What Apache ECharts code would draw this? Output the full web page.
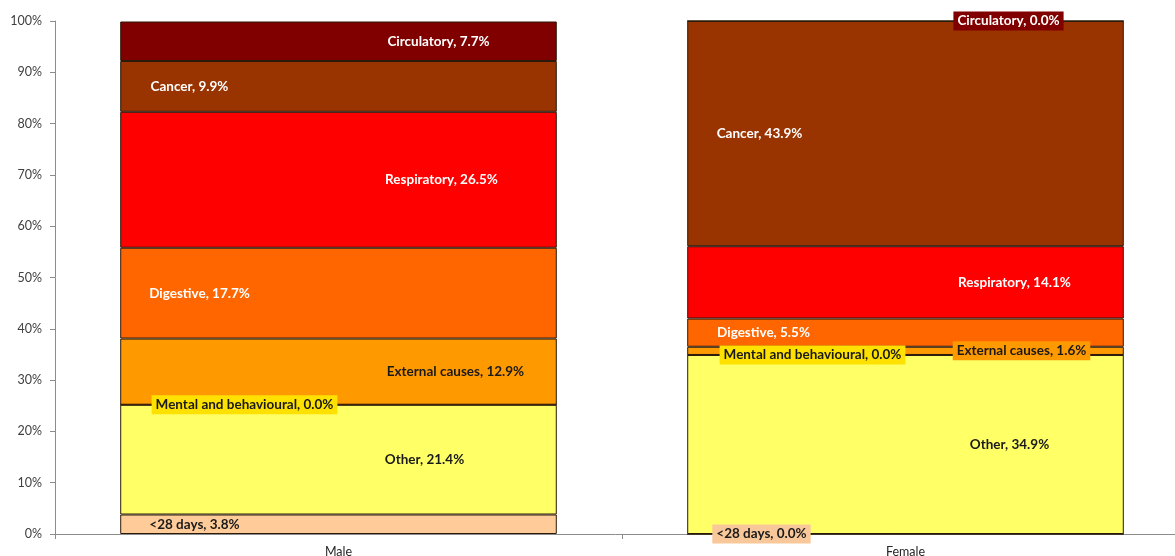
<!DOCTYPE html>
<html>
<head>
<meta charset="utf-8">
<script src="https://cdn.jsdelivr.net/npm/echarts@6/dist/echarts.min.js"></script>
<style>
  html, body { margin: 0; padding: 0; background: #fff; }
  #container { width: 1175px; height: 556px; }
</style>
</head>
<body>
<div id="container"></div>
<script>
// categories and series, bottom of the stack first
let categories = ['Male', 'Female'];
let seriesNames = ['<28 days', 'Other', 'Mental and behavioural', 'External causes',
                   'Digestive', 'Respiratory', 'Cancer', 'Circulatory'];
let maleValues   = [3.8, 21.4, 0.0, 12.9, 17.7, 26.5, 9.9, 7.7];
let femaleValues = [0.0, 34.9, 0.0, 1.6, 5.5, 14.1, 43.9, 0.0];
let yTicks = [0, 10, 20, 30, 40, 50, 60, 70, 80, 90, 100];

// look of each series
let colors = ['#ffcc99', '#ffff66', '#ffe100', '#ff9900', '#ff6600', '#ff0000', '#993300', '#800000'];
let textColors = ['#1a1a1a', '#1a1a1a', '#1a1a1a', '#1a1a1a', '#ffffff', '#ffffff', '#ffffff', '#ffffff'];
// horizontal label shift from bar centre, [male, female]
let labelShift = [[-144, -144], [86, 104], [-94, -93], [117, 116],
                  [-139, -142], [103, 109], [-149, -146], [100, 103]];
// labels that sit on a thin or empty segment get a box behind them
let boxed = [[false, true], [false, false], [true, true], [false, true],
             [false, false], [false, false], [false, false], [false, true]];
let boxColors = ['#f9c89a', '#ffff66', '#ffe100', '#ff9900', '#ff6600', '#ff0000', '#993300', '#800000'];

let series = seriesNames.map((name, i) => {
    let vals = [maleValues[i], femaleValues[i]];
    return {
        name: name,
        type: 'bar',
        stack: 'total',
        barWidth: '77%',
        itemStyle: { color: colors[i], borderColor: '#2b1a0a', borderWidth: 1 },
        data: vals.map((v, j) => {
            let lab = { offset: [labelShift[i][j], 0] };
            if (boxed[i][j]) {
                lab.backgroundColor = boxColors[i];
                lab.padding = [3, 4, 2, 4];
            }
            return { value: v, label: lab };
        }),
        label: {
            show: true,
            position: 'inside',
            color: textColors[i],
            fontFamily: 'Lato',
            fontWeight: 'bold',
            fontSize: 13.5,
            formatter: (p) => p.seriesName + ', ' + p.value.toFixed(1) + '%'
        }
    };
});

let chart = echarts.init(document.getElementById('container'));
chart.setOption({
    animation: false,
    grid: { left: 55, right: -14, top: 21, bottom: 22, containLabel: false, outerBoundsMode: 'none' },
    xAxis: {
        type: 'category',
        data: categories,
        axisLine: { lineStyle: { color: '#8c8c8c' } },
        axisTick: { show: true, length: 5, lineStyle: { color: '#8c8c8c' } },
        axisLabel: { color: '#262626', fontFamily: 'Lato', fontSize: 12.5, margin: 11 }
    },
    yAxis: {
        type: 'value',
        min: yTicks[0],
        max: yTicks[yTicks.length - 1],
        interval: yTicks[1] - yTicks[0],
        axisLine: { show: true, lineStyle: { color: '#8c8c8c' } },
        axisTick: { show: true, length: 5, lineStyle: { color: '#8c8c8c' } },
        splitLine: { show: false },
        axisLabel: { color: '#404040', fontFamily: 'Lato', fontSize: 12.5, margin: 13, formatter: '{value}%' }
    },
    series: series
});
</script>
</body>
</html>
